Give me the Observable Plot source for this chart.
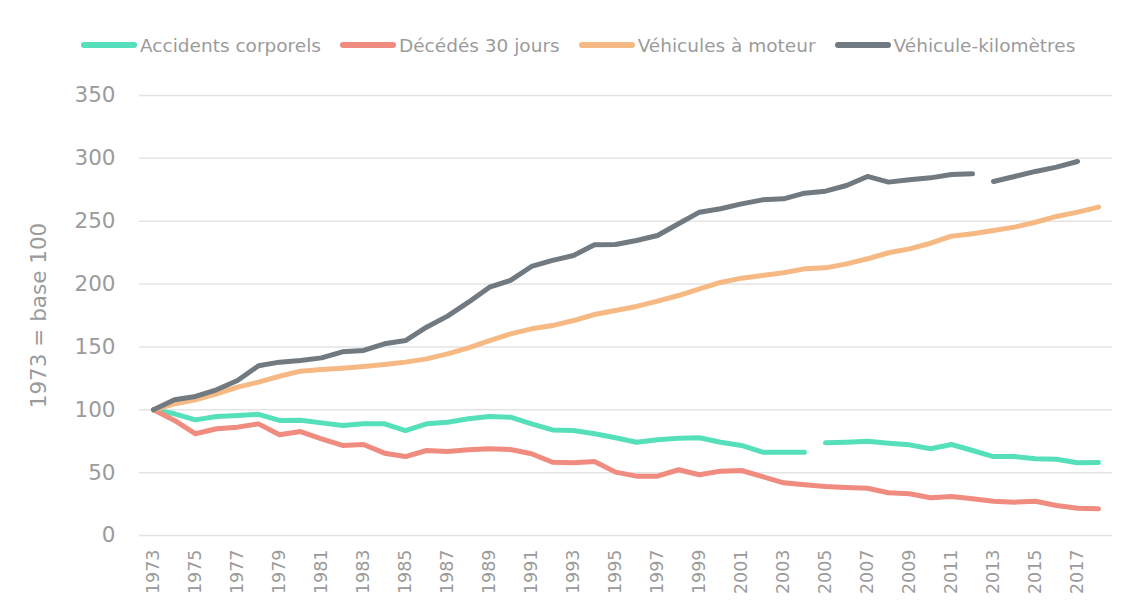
<!DOCTYPE html>
<html><head><meta charset="utf-8">
<script src="https://cdn.jsdelivr.net/npm/d3@7"></script>
<script src="https://cdn.jsdelivr.net/npm/@observablehq/plot@0.6"></script>
<style>
body{margin:0;background:#fff;font-family:"DejaVu Sans",sans-serif;}
#legend{height:75px;display:flex;align-items:center;padding-left:81px;padding-top:15px;box-sizing:border-box;color:#9b9b9b;font-size:18.5px;}
.item{display:flex;align-items:center;margin-right:19px}
.sw{width:56px;height:6px;border-radius:3px;margin-right:3px}
svg{overflow:visible}
</style></head><body>
<div id="legend"></div>
<div id="chart"></div>
<script>
const years = [1973,1974,1975,1976,1977,1978,1979,1980,1981,1982,1983,1984,1985,1986,1987,1988,1989,1990,1991,1992,1993,1994,1995,1996,1997,1998,1999,2000,2001,2002,2003,2004,2005,2006,2007,2008,2009,2010,2011,2012,2013,2014,2015,2016,2017,2018];
const xTickLabels = [1973,1975,1977,1979,1981,1983,1985,1987,1989,1991,1993,1995,1997,1999,2001,2003,2005,2007,2009,2011,2013,2015,2017];
const yTicks = [0,50,100,150,200,250,300,350];
const seriesNames = ["Accidents corporels","Décédés 30 jours","Véhicules à moteur","Véhicule-kilomètres"];
const seriesColors = ["#55e0bb","#f08b7f","#f6b983","#717a81"];

const accidents = [100,96.8,92,94.7,95.5,96.3,91.5,91.7,89.6,87.5,88.8,88.8,83.5,88.8,90.1,92.8,94.7,94.1,88.8,84,83.5,80.9,77.7,74.2,76.1,77.4,77.7,74.2,71.6,66.3,66.3,66.3,73.7,74.2,75,73.4,72.1,69,72.4,67.6,62.8,62.8,61,60.7,57.8,58.1];
const deces = [100,91.5,80.9,84.9,86.2,88.8,80.1,82.7,76.9,71.6,72.4,65.5,62.8,67.6,66.8,68.2,69,68.4,65,58.3,57.8,58.9,50.4,47.2,47.2,52.3,48.3,51.2,51.7,46.9,41.9,40.3,39,38.2,37.6,34,33.2,30,31,29.2,27.3,26.5,27.3,23.9,21.7,21.2];
const vehicules = [100,104.8,108,112.7,118,122,126.7,130.7,132,133.1,134.4,136,137.9,140.5,144.5,149.3,155.1,160.4,164.4,167,171,175.8,179,182.2,186.4,190.9,196.2,201.3,204.7,206.8,209,212.1,212.9,216.1,220.1,224.9,228,232.5,238.1,240,242.6,245.3,249.2,253.8,257.2,261.2];
const vehKm = [100,108,110.6,115.9,123.3,135,137.9,139.2,141.3,146.1,147.2,152.5,155.1,165.7,174.5,185.6,197.5,202.9,214,218.8,222.7,231.2,231.5,234.7,238.6,248,257.2,259.9,263.8,267,267.8,272.3,273.9,278.4,285.6,281.1,282.9,284.5,287.2,287.7,281.6,285.6,289.6,293,297.5,null];
// last year of the first segment of each broken series (line is interrupted after it)
const breakAfter = [2004, null, null, 2012];

const seriesValues = [accidents, deces, vehicules, vehKm];
const rows = [];
seriesNames.forEach((name, s) => {
  years.forEach((year, i) => {
    const v = seriesValues[s][i];
    if (v == null) return;
    const seg = breakAfter[s] != null && year > breakAfter[s] ? "b" : "a";
    rows.push({series: name, year, value: v, seg: name + seg});
  });
});

const legend = document.getElementById("legend");
seriesNames.forEach((n, i) => {
  const it = document.createElement("div"); it.className = "item";
  const sw = document.createElement("div"); sw.className = "sw"; sw.style.background = seriesColors[i];
  const tx = document.createElement("span"); tx.textContent = n;
  it.appendChild(sw); it.appendChild(tx); legend.appendChild(it);
});

const chart = Plot.plot({
  width: 1133, height: 535,
  marginTop: 20, marginBottom: 75, marginLeft: 139, marginRight: 21,
  style: {fontFamily: "DejaVu Sans", color: "#9b9b9b", background: "#fff", overflow: "visible"},
  x: {type: "point", domain: years, padding: 0.5},
  y: {domain: [0, 350]},
  color: {domain: seriesNames, range: seriesColors},
  marks: [
    Plot.gridY(yTicks, {stroke: "#e4e4e4", strokeOpacity: 1, strokeWidth: 1.5}),
    Plot.axisY(yTicks, {tickSize: 0, tickPadding: 24, fontSize: 21.5, fill: "#9b9b9b", label: "1973 = base 100", labelAnchor: "center", labelArrow: false, labelOffset: 109}),
    Plot.axisX(xTickLabels, {tickSize: 0, tickPadding: 14, tickRotate: -90, fontSize: 17.5, fill: "#9b9b9b", tickFormat: d => String(d), label: null}),
    Plot.line(rows, {x: "year", y: "value", z: "seg", stroke: "series", strokeWidth: 5, strokeLinecap: "round", strokeLinejoin: "round"})
  ]
});
document.getElementById("chart").appendChild(chart);
</script>
</body></html>
